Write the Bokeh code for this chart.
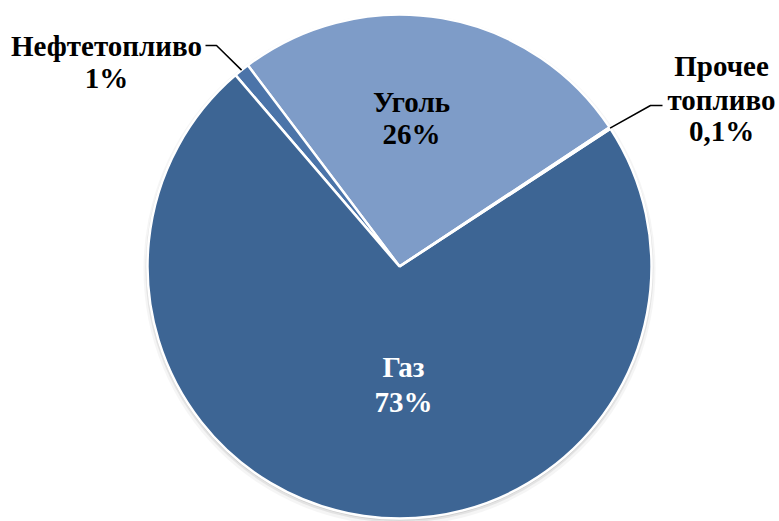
import math
from bokeh.plotting import figure
from bokeh.models import Range1d, ColumnDataSource
from bokeh.core.properties import value
from bokeh.embed import file_html
from bokeh.resources import INLINE

# Data (counter-clockwise order starting from the Уголь/Прочее boundary)
categories = ["Уголь", "Нефтетопливо", "Газ", "Прочее топливо"]
shares = [26, 1, 73, 0.1]
share_labels = ["26%", "1%", "73%", "0,1%"]
colors = ["#7E9CC8", "#4B74A9", "#3D6594", "#4A6FA0"]

W, H = 779, 521
p = figure(width=W, height=H, output_backend="svg", toolbar_location=None,
           x_range=Range1d(0, W), y_range=Range1d(0, H), min_border=0)
p.axis.visible = False
p.grid.visible = False
p.outline_line_color = None
p.background_fill_color = "white"

def page(x, y):
    return x, H - y

cx, cy = page(399, 266)
R = 252
start_deg = 33.5
total = sum(shares)
starts, ends = [], []
a = math.radians(start_deg)
for s in shares:
    starts.append(a)
    a += s / total * 2 * math.pi
    ends.append(a)

# soft shadow
for dr, dy, al in [(4, -3, 0.08), (2, -2, 0.15), (1, -1, 0.2)]:
    p.circle(x=[cx], y=[cy + dy], radius=R + dr, fill_color="#808080",
             fill_alpha=al, line_color=None)

src = ColumnDataSource(dict(cat=categories, start=starts, end=ends, color=colors))
p.wedge(x=cx, y=cy, radius=R, start_angle="start", end_angle="end",
        fill_color="color", line_color="white", line_width=2.5, source=src)

font = value("'Liberation Serif', 'Times New Roman', serif")
fs = "29px"

def txt(x, y, t, color="black"):
    p.text(x=[x], y=[y], text=[t], text_font=font, text_font_size=fs,
           text_font_style="bold", text_align="center", text_baseline="middle",
           text_color=color)

# Уголь
x, y = page(411, 101); txt(x, y, categories[0])
x, y = page(411, 133); txt(x, y, share_labels[0])
# Газ
x, y = page(403, 366); txt(x, y, categories[2], "white")
x, y = page(403, 401); txt(x, y, share_labels[2], "white")
# Нефтетопливо
x, y = page(106, 45); txt(x, y, categories[1])
x, y = page(106, 77); txt(x, y, share_labels[1])
# Прочее топливо
x, y = page(721, 65); txt(x, y, "Прочее")
x, y = page(721, 99); txt(x, y, "топливо")
x, y = page(721, 130); txt(x, y, share_labels[3])

# leader lines
mid1 = (starts[1] + ends[1]) / 2
ex, ey = cx + R * math.cos(mid1), cy + R * math.sin(mid1)
x1, y1 = page(205, 45); x2, y2 = page(216, 45)
p.line(x=[x1, x2, ex], y=[y1, y2, ey], line_color="black", line_width=1.5)

mid3 = (starts[3] + ends[3]) / 2
ex, ey = cx + R * math.cos(mid3), cy + R * math.sin(mid3)
x1, y1 = page(662, 105); x2, y2 = page(650, 105)
p.line(x=[ex, x2, x1], y=[ey, y2, y1], line_color="black", line_width=1.5)

open("out.html", "w").write(file_html(p, INLINE))
